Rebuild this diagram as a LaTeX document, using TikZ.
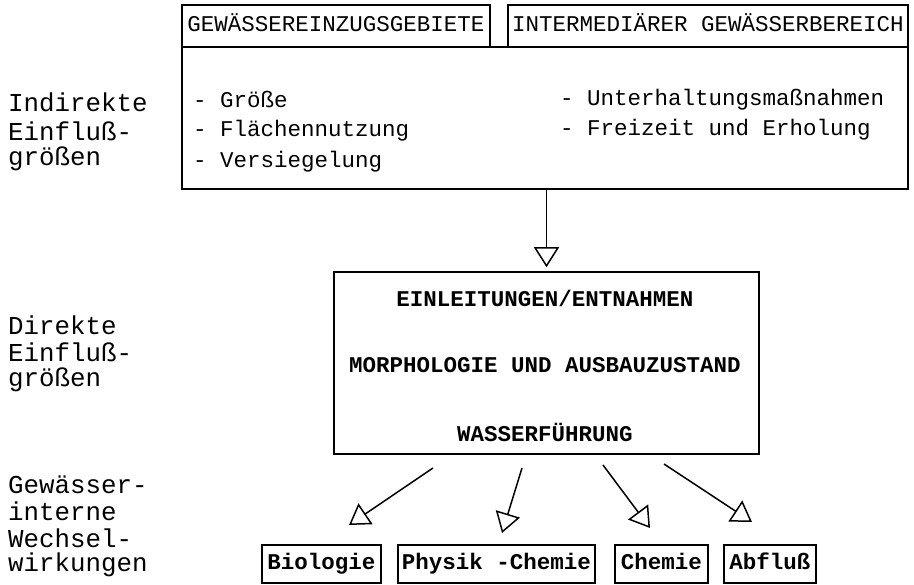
\documentclass[tikz,border=0pt]{standalone}
\usepackage{fontspec}
\setmainfont{Liberation Mono}
\usetikzlibrary{arrows.meta}
\tikzset{
  boxline/.style={draw=black, line width=1.5pt, inner sep=0pt, rectangle},
  hdrtext/.style={font=\fontsize{22.5}{24}\selectfont, text height=14pt, text depth=2pt},
  itemtext/.style={font=\fontsize{22.5}{24}\selectfont, anchor=west, inner sep=0pt},
  midtext/.style={font=\fontsize{22.5}{24}\selectfont\bfseries, inner sep=0pt},
  bottext/.style={font=\fontsize{22.5}{24}\selectfont\bfseries, text height=14pt, text depth=4pt},
  sidetext/.style={font=\fontsize{25.8}{28}\selectfont, anchor=west, inner sep=0pt},
  openarrow/.style={line width=1.5pt, -{Triangle[open, length=20pt, width=25pt, line width=1.5pt]}},
}
\begin{document}
\begin{tikzpicture}[x=1pt,y=-1pt]
\useasboundingbox (0,0) rectangle (914,585);
% top group
\node[boxline, minimum width=726pt, minimum height=142pt] (topbox) at (545,118) {};
\node[boxline, hdrtext, minimum width=308pt, minimum height=42pt] (hdrleft) at (336,26) {GEWÄSSEREINZUGSGEBIETE};
\node[boxline, hdrtext, minimum width=400pt, minimum height=42pt] (hdrright) at (708,26) {INTERMEDIÄRER GEWÄSSERBEREICH};
\node[itemtext] (i1) at (193,100) {- Größe};
\node[itemtext] (i2) at (193,131) {- Flächennutzung};
\node[itemtext] (i3) at (193,162) {- Versiegelung};
\node[itemtext] (i4) at (560,100) {- Unterhaltungsmaßnahmen};
\node[itemtext] (i5) at (560,130) {- Freizeit und Erholung};
% middle box
\node[boxline, minimum width=425pt, minimum height=182pt] (midbox) at (546.5,363) {};
\node[midtext] (m1) at (545,298) {EINLEITUNGEN/ENTNAHMEN};
\node[midtext] (m2) at (545,365) {MORPHOLOGIE UND AUSBAUZUSTAND};
\node[midtext] (m3) at (545,432) {WASSERFÜHRUNG};
% bottom boxes
\node[boxline, bottext, minimum width=119pt, minimum height=38pt] (bio) at (321.5,564) {Biologie};
\node[boxline, bottext, minimum width=197pt, minimum height=38pt] (phys) at (496.5,564) {Physik -Chemie};
\node[boxline, bottext, minimum width=93pt, minimum height=38pt] (chem) at (661.5,564) {Chemie};
\node[boxline, bottext, minimum width=92pt, minimum height=38pt] (abfl) at (770,564) {Abfluß};
% side labels
\node[sidetext] (l1) at (8,102) {Indirekte};
\node[sidetext] (l2) at (8,131) {Einfluß-};
\node[sidetext] (l3) at (8,159) {größen};
\node[sidetext] (l4) at (8,325) {Direkte};
\node[sidetext] (l5) at (8,352) {Einfluß-};
\node[sidetext] (l6) at (8,380) {größen};
\node[sidetext] (l7) at (8,485) {Gewässer-};
\node[sidetext] (l8) at (8,511) {interne};
\node[sidetext] (l9) at (8,538) {Wechsel-};
\node[sidetext] (l10) at (8,565) {wirkungen};
% connectors
\draw[openarrow, shorten >=4pt] (topbox.south -| midbox.north) -- (midbox.north);
\coordinate (s1) at (433,468); \coordinate (t1) at (349,525);
\coordinate (s2) at (522,468); \coordinate (t2) at (502,533);
\coordinate (s3) at (603,465); \coordinate (t3) at (650,528);
\coordinate (s4) at (664,464); \coordinate (t4) at (752,522);
\draw[openarrow] (s1) -- (t1);
\draw[openarrow] (s2) -- (t2);
\draw[openarrow] (s3) -- (t3);
\draw[openarrow] (s4) -- (t4);
\end{tikzpicture}
\end{document}
